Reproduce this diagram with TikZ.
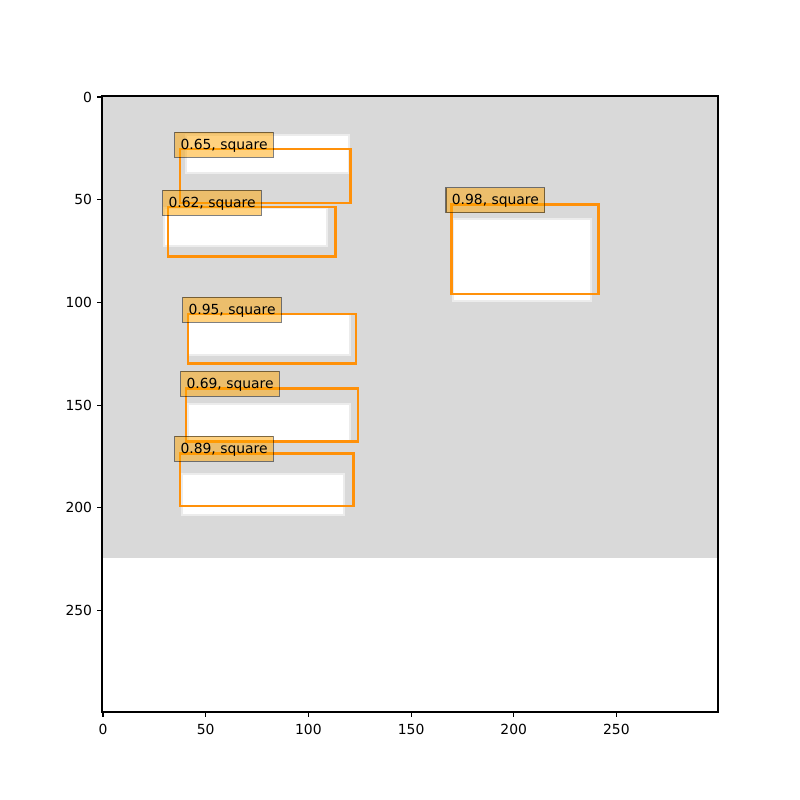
\documentclass[tikz,border=0pt]{standalone}
\usepackage{fontspec}
\setmainfont{DejaVu Sans}
\definecolor{bggray}{RGB}{217,217,217}
\definecolor{boxorange}{RGB}{255,145,10}
\definecolor{lblorange}{RGB}{255,165,0}
\definecolor{rectedge}{RGB}{236,236,236}
\tikzset{
  detbox/.style={draw=boxorange, line width=2pt},
  whiterect/.style={fill=white, draw=rectedge, line width=1.2pt},
  lbl/.style={anchor=base west, xshift=-4.2pt, fill=lblorange, fill opacity=0.5,
    draw=black, draw opacity=0.5, text opacity=1, line width=0.8pt,
    inner xsep=4.2pt, inner ysep=0pt, text height=12.2pt, text depth=5.8pt,
    font=\fontsize{10}{12}\selectfont},
  ticklbl/.style={inner sep=0pt, font=\fontsize{10}{12}\selectfont},
  tickmark/.style={line width=0.8pt}
}
\begin{document}
\begin{tikzpicture}[x=0.72pt,y=-0.72pt]
\useasboundingbox (0,0) rectangle (800,800);
% image
\fill[white] (102,96) rectangle (718,712);
\fill[bggray] (102,96) rectangle (718,558);
% white rectangles in the image
\draw[whiterect] (186,135) rectangle (349.3,173.3);
\draw[whiterect] (164,207.7) rectangle (327.3,246);
\draw[whiterect] (452.7,219) rectangle (591,300.7);
\draw[whiterect] (188,314) rectangle (350,355.3);
\draw[whiterect] (188,404) rectangle (350,440.7);
\draw[whiterect] (182,474) rectangle (344.3,514.7);
% detection boxes
\draw[detbox] (180,149) rectangle (350.7,203);
\draw[detbox] (168,207) rectangle (335.5,256.5);
\draw[detbox] (451.3,204.6) rectangle (598.5,294);
\draw[detbox] (188,314) rectangle (356,363.5);
\draw[detbox] (186,388.3) rectangle (358,441.7);
\draw[detbox] (180,453.3) rectangle (353.7,506);
% labels
\node[lbl] (l1) at (180,149) {0.65, square};
\node[lbl] (l2) at (168,207) {0.62, square};
\node[lbl] (l3) at (451.3,204.6) {0.98, square};
\node[lbl] (l4) at (188,314) {0.95, square};
\node[lbl] (l5) at (186,388.3) {0.69, square};
\node[lbl] (l6) at (180,453.3) {0.89, square};
% axes frame
\draw[line width=0.8pt] (102,96) rectangle (718,712);
% x ticks
\foreach \v/\px in {0/103.03,50/205.7,100/308.4,150/411.1,200/513.7,250/616.4}{
  \draw[tickmark] (\px,712) -- (\px,716.9);
  \node[ticklbl, anchor=north] (xt\v) at (\px,724.3) {\v};
}
% y ticks
\foreach \v/\py in {0/97.03,50/199.7,100/302.4,150/405.1,200/507.7,250/610.4}{
  \draw[tickmark] (102,\py) -- (97.1,\py);
  \node[ticklbl, anchor=east] (yt\v) at (92.3,\py) {\v};
}
\end{tikzpicture}
\end{document}
